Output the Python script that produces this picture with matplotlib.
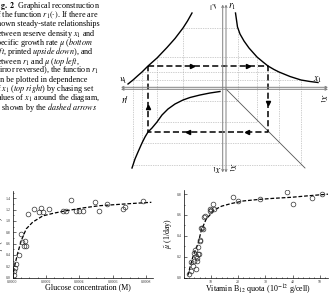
import matplotlib
matplotlib.use('Agg')
import matplotlib.pyplot as plt
import matplotlib.transforms as mtransforms
from matplotlib.textpath import TextPath
from matplotlib.patches import PathPatch
from matplotlib.font_manager import FontProperties
from matplotlib.ticker import MultipleLocator

plt.rcParams['font.family'] = ['Liberation Serif', 'DejaVu Serif']
plt.rcParams['mathtext.fontset'] = 'stix'

W, H = 329, 294

caption = [
    r"$\mathbf{Fig.\ 2}$  Graphical reconstruction",
    r"of the function $r_1(\cdot)$. If there are",
    "known steady-state relationships",
    r"between reserve density $x_1$ and",
    r"specific growth rate $\mu$ ($\mathit{bottom}$",
    r"$\mathit{left}$, printed $\mathit{upside\ down}$), and",
    r"between $r_1$ and $\mu$ ($\mathit{top\ left}$,",
    r"mirror reversed), the function $r_1$",
    "can be plotted in dependence",
    r"of $x_1$ ($\mathit{top\ right}$) by chasing set",
    r"values of $x_1$ around the diagram,",
    r"as shown by the $\mathit{dashed\ arrows}$",
]

# schematic diagram, units relative to the crossing of the axes
tr_u = [10.5, 11.5, 12.5, 15, 19, 24, 32, 38, 43, 49, 54, 65, 76, 85, 93]
tr_v = [75.5, 68.5, 61.5, 54.5, 47.5, 40.5, 31.5, 26.5, 22.5, 19, 16.5, 12, 8.5, 7, 6]
tl_u = [-97, -92, -87, -83, -77, -68, -58, -50, -42, -37.5, -33]
tl_v = [4.5, 8.5, 13, 16.5, 22.5, 30.5, 41, 50, 60.5, 67.5, 75.5]
bl_u = [-5, -15, -25, -35, -42, -50, -57, -63, -68, -73, -77, -80, -83, -87, -90, -93]
bl_v = [-3, -4.5, -6.5, -9, -11.5, -15.5, -20.5, -26.5, -33.5, -39.5, -43.5, -48.5,
        -54.5, -63.5, -70.5, -79.5]
diag_u = [1, 80]
diag_v = [-0.5, -79.5]

loop_ur = [12.5, 32, 54, 76]
loop_vt = [61, 31.5, 16.5, 8.5]
loop_ul = [-42, -68, -83, -92]
loop_vb = [-12, -33, -54.5, -76]

dash_ur, dash_vt, dash_ul, dash_vb = 43, 22.5, -77, -43.5

# glucose panel
glu_x = [0.0000078, 0.0000078, 0.000012, 0.000018, 0.000038, 0.000052, 0.000058,
         0.000066, 0.000078, 0.000072, 0.000091, 0.000131, 0.000161, 0.000171,
         0.000181, 0.000221, 0.00030, 0.00032, 0.00035, 0.00038, 0.00040, 0.00042,
         0.000495, 0.00052, 0.000563, 0.00066, 0.00067, 0.00078]
glu_y = [0.05, 0.11, 0.17, 0.23, 0.39, 0.77, 0.62, 0.56, 0.56, 0.65, 1.12, 1.22,
         1.15, 1.23, 1.16, 1.22, 1.18, 1.18, 1.37, 1.17, 1.17, 1.17, 1.33, 1.18,
         1.30, 1.21, 1.24, 1.35]
glu_fit_x = [0.0, 0.00001, 0.00003, 0.000052, 0.000082, 0.000121, 0.000181,
             0.00025, 0.00032, 0.00042, 0.00052, 0.00062, 0.00072, 0.00083]
glu_fit_y = [0.0, 0.17, 0.42, 0.65, 0.86, 0.98, 1.09, 1.14, 1.18, 1.23, 1.27,
             1.29, 1.31, 1.33]
glu_xticks = [0.0, 0.0002, 0.0004, 0.0006, 0.0008]
glu_xlabels = ['0.0000', '0.0002', '0.0004', '0.0006', '0.0008']
glu_yticks = [0.0, 0.2, 0.4, 0.6, 0.8, 1.0, 1.2, 1.4]

# vitamin B12 panel
b12_x = [2.2, 2.6, 2.8, 3.4, 4.0, 3.8, 4.3, 4.7, 5.0, 5.3, 4.7, 5.6, 4.9, 5.3, 5.9,
         6.1, 6.5, 6.9, 7.1, 7.5, 8.0, 9.6, 9.8, 10.2, 10.8, 11.1, 18.1, 20.0,
         27.9, 37.8, 40.2, 47.0, 50.9]
b12_y = [0.035, 0.06, 0.15, 0.115, 0.16, 0.24, 0.26, 0.21, 0.19, 0.23, 0.08, 0.23,
         0.16, 0.29, 0.36, 0.355, 0.48, 0.48, 0.47, 0.58, 0.59, 0.635, 0.66, 0.65,
         0.71, 0.655, 0.77, 0.73, 0.75, 0.82, 0.71, 0.76, 0.805]
b12_fit_x = [1.6, 2.5, 3.4, 4.3, 5.3, 6.5, 8.3, 11.4, 14.0, 17.5, 22.0, 27.9, 33.0,
             39.6, 46.0, 53.0]
b12_fit_y = [0.02, 0.11, 0.195, 0.26, 0.32, 0.45, 0.56, 0.65, 0.685, 0.71, 0.735,
             0.75, 0.76, 0.77, 0.785, 0.80]
b12_xticks = [10, 20, 30, 40, 50]
b12_yticks = [0.0, 0.2, 0.4, 0.6, 0.8]


def px_rect(x0, y0, x1, y1):
    return [x0 / W, 1 - y1 / H, (x1 - x0) / W, (y1 - y0) / H]


def mirror_text(ax, x, y, s, size):
    tp = TextPath((0, 0), s, size=size, prop=FontProperties(family='Liberation Serif'))
    bb = tp.get_extents()
    tr = (mtransforms.Affine2D()
          .translate(-(bb.x0 + bb.x1) / 2, -(bb.y0 + bb.y1) / 2)
          .scale(-1, 1).translate(x, y) + ax.transData)
    ax.add_patch(PathPatch(tp, transform=tr, color='black', lw=0))


fig = plt.figure(figsize=(W / 100, H / 100), dpi=100)

# caption
for i, line in enumerate(caption):
    fig.text(-7 / W, 1 - (6 + 9.2 * i) / H, line, fontsize=5.9,
             ha='left', va='center')

# diagram
ax = fig.add_axes(px_rect(115, 0, 329, 175))
ax.set_xlim(-110, 104)
ax.set_ylim(-86.5, 88.5)
ax.axis('off')

axis_kw = dict(arrowstyle='<->', lw=0.7, color='#808080', mutation_scale=3.5,
               shrinkA=0, shrinkB=0)
for off in (1.2, -0.8):
    ax.annotate('', xy=(-104, off), xytext=(103, off), arrowprops=axis_kw)
for off in (-2.3, 1.0):
    ax.annotate('', xy=(off, 84), xytext=(off, -84), arrowprops=axis_kw)

dot_kw = dict(color='#a0a0a0', lw=0.5, ls=(0, (1, 1.5)))
for ur, vt, ul, vb in zip(loop_ur, loop_vt, loop_ul, loop_vb):
    ax.plot([ur, ul, ul, ur, ur], [vt, vt, vb, vb, vt], **dot_kw)

ax.plot(tr_u, tr_v, color='black', lw=1.0)
ax.plot(tl_u, tl_v, color='black', lw=1.0)
ax.plot(bl_u, bl_v, color='black', lw=1.0)
ax.plot(diag_u, diag_v, color='#555555', lw=0.6)

ax.plot([dash_ul, dash_ur, dash_ur, dash_ul, dash_ul],
        [dash_vt, dash_vt, dash_vb, dash_vb, dash_vt],
        color='black', lw=1.1, ls=(0, (4, 2)))
ax.plot([-33, 23], [dash_vt, dash_vt], '>', color='black', ms=3)
ax.plot([-37, 22], [dash_vb, dash_vb], '<', color='black', ms=3)
ax.plot([dash_ur], [-14.5], 'v', color='black', ms=3)
ax.plot([dash_ul], [-18.5], '^', color='black', ms=3)

ax.text(7, 81.5, r'$r_1$', fontsize=7, ha='center', va='center')
mirror_text(ax, -12, 81.5, r'$r_1$', 9.5)
mirror_text(ax, -102, 8.5, r'$\mu$', 9.5)
ax.text(-101, -8.5, r'$\mu$', fontsize=7, rotation=180, ha='center', va='center')
ax.text(93, 8.5, r'$x_1$', fontsize=7, ha='center', va='center')
ax.text(97, -10, r'$x_1$', fontsize=7, rotation=-90, ha='center', va='center')
ax.text(-9, -79, r'$x_1$', fontsize=7, rotation=180, ha='center', va='center')
ax.text(6, -79, r'$x_1$', fontsize=7, rotation=-90, ha='center', va='center')


def style_panel(a):
    for side in ('top', 'right'):
        a.spines[side].set_visible(False)
    for side in ('left', 'bottom'):
        a.spines[side].set_linewidth(0.5)
    a.tick_params(which='both', direction='in', width=0.4, labelsize=2.8,
                  pad=1.5, labelcolor='#333333')
    a.tick_params(which='major', length=2)
    a.tick_params(which='minor', length=1)


# glucose panel
a1 = fig.add_axes(px_rect(12.5, 191, 153, 277.5))
a1.plot(glu_fit_x, glu_fit_y, color='black', lw=0.9, ls=(0, (3, 1.5)))
a1.plot(glu_x, glu_y, 'o', mfc='none', mec='#333333', ms=3.4, mew=0.5)
a1.set_xlim(0, 0.00084)
a1.set_ylim(0, 1.53)
a1.set_xticks(glu_xticks, glu_xlabels)
a1.set_yticks(glu_yticks, [f'{v:.1f}' for v in glu_yticks])
a1.xaxis.set_minor_locator(MultipleLocator(0.00005))
a1.yaxis.set_minor_locator(MultipleLocator(0.1))
style_panel(a1)
a1.set_xlabel('Glucose concentration (M)', fontsize=5.8)
a1.xaxis.set_label_coords(0.537, -0.065)
a1.set_ylabel(r'$\mu$ (1/hour)', fontsize=5.8)
a1.yaxis.set_label_coords(-0.05, 0.5)

# vitamin B12 panel
a2 = fig.add_axes(px_rect(183.5, 190, 328, 277.5))
a2.plot(b12_fit_x, b12_fit_y, color='black', lw=0.9, ls=(0, (3, 1.5)))
a2.plot(b12_x, b12_y, 'o', mfc='none', mec='#333333', ms=3.4, mew=0.5)
a2.set_xlim(0, 53)
a2.set_ylim(0, 0.84)
a2.set_xticks(b12_xticks, [str(v) for v in b12_xticks])
a2.set_yticks(b12_yticks, [f'{v:.1f}' for v in b12_yticks])
a2.xaxis.set_minor_locator(MultipleLocator(2))
a2.yaxis.set_minor_locator(MultipleLocator(0.1))
style_panel(a2)
a2.set_xlabel(r'Vitamin B$_{12}$ quota (10$^{-12}$ g/cell)', fontsize=5.8)
a2.xaxis.set_label_coords(0.516, -0.058)
a2.set_ylabel(r'$\tilde{\mu}$ (1/day)', fontsize=5.8)
a2.yaxis.set_label_coords(-0.059, 0.5)

fig.savefig('out.png', dpi=100)
